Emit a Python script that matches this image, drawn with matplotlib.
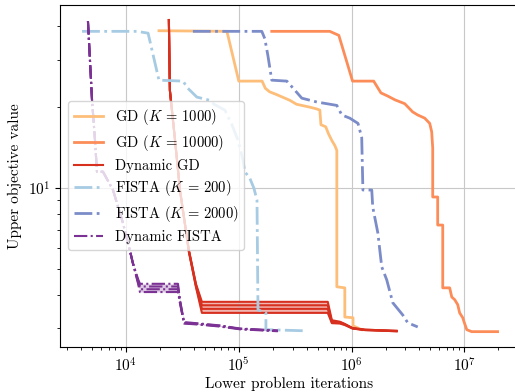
import matplotlib
matplotlib.use("Agg")
import matplotlib.pyplot as plt
from matplotlib.ticker import NullFormatter

plt.rcParams.update({
    "font.family": "serif",
    "font.serif": ["cmr10"],
    "mathtext.fontset": "cm",
    "axes.formatter.use_mathtext": True,
    "axes.unicode_minus": False,
    "font.size": 11,
})

# GD with a fixed number of inner iterations
gd1000_x = [19600, 78500, 100000, 161000, 172000, 188000, 215000, 284000, 325000,
            426000, 490000, 523000, 535000, 590000, 625000, 670000, 710000, 740000,
            740000, 871000, 871000, 1.03e6, 1.03e6, 1.23e6]
gd1000_y = [38.5, 38.3, 25.0, 25.0, 23.5, 22.8, 22.3, 21.2, 20.5,
            20.0, 19.7, 19.5, 17.2, 16.9, 15.9, 15.0, 14.4, 13.8,
            4.29, 4.25, 3.31, 3.29, 3.07, 2.97]

gd10000_x = [196000, 641000, 771000, 1.02e6, 1.57e6, 1.82e6, 2.09e6, 2.42e6, 2.96e6,
             3.48e6, 3.86e6, 4.45e6, 4.93e6, 5.13e6, 5.24e6, 5.24e6, 5.80e6, 5.80e6,
             6.43e6, 6.43e6, 7.41e6, 7.73e6, 8.21e6, 8.73e6, 9.08e6, 9.67e6, 1.0e7,
             1.05e7, 1.16e7, 1.97e7]
gd10000_y = [38.3, 38.3, 37.0, 25.0, 25.0, 22.6, 22.0, 21.3, 20.6,
             19.2, 18.7, 18.2, 17.4, 16.2, 14.1, 9.26, 9.26, 7.28,
             7.28, 4.25, 4.25, 3.93, 3.84, 3.68, 3.43, 3.29, 3.15,
             2.97, 2.92, 2.92]

# dynamic GD, several runs
dyn_gd_x = [24000, 24500, 27200, 30100, 36100, 41700, 47100, 615000, 669000,
            786000, 871000, 1.02e6, 1.31e6, 2.51e6]
dyn_gd_runs = [
    [42.2, 23.1, 15.1, 9.83, 5.88, 4.40, 3.77, 3.77, 3.22, 3.18, 3.12, 3.01, 2.97, 2.94],
    [42.2, 23.1, 15.1, 9.83, 5.85, 4.36, 3.66, 3.66, 3.18, 3.17, 3.11, 3.01, 2.97, 2.94],
    [42.2, 23.1, 15.1, 9.83, 5.82, 4.32, 3.55, 3.55, 3.16, 3.15, 3.10, 3.00, 2.96, 2.93],
    [42.2, 23.1, 15.1, 9.83, 5.78, 4.28, 3.43, 3.43, 3.14, 3.13, 3.09, 3.00, 2.96, 2.93],
]

# FISTA with a fixed number of inner iterations
fista200_x = [4080, 12500, 15700, 19600, 32000, 35400, 42500, 55500, 60200, 75300,
              86900, 98200, 109000, 113000, 125000, 136000, 145000, 148000, 174000,
              174000, 401000]
fista200_y = [38.3, 38.3, 37.7, 25.2, 25.0, 23.5, 21.8, 21.2, 20.5, 19.5,
              17.2, 15.1, 12.7, 11.5, 10.9, 10.0, 9.02, 3.52, 3.43,
              2.97, 2.94]

fista2000_x = [39200, 160000, 170000, 181000, 196000, 267000, 362000, 492000, 740000,
               819000, 964000, 1.14e6, 1.23e6, 1.26e6, 1.51e6, 1.54e6, 1.71e6, 1.85e6,
               2.05e6, 2.32e6, 2.84e6, 3.15e6, 3.86e6]
fista2000_y = [38.3, 38.3, 36.0, 31.2, 25.2, 25.0, 21.6, 20.9, 20.3,
               18.7, 18.2, 17.4, 15.4, 9.83, 9.83, 8.50, 6.80, 5.09,
               4.55, 3.74, 3.37, 3.15, 3.04]

# dynamic FISTA, several runs
dyn_fista_x = [4600, 5000, 5310, 5530, 6250, 7670, 9400, 10800, 11500, 12800, 13300,
               28900, 30100, 32700, 45200, 68000, 102000, 222000]
dyn_fista_runs = [
    [41.8, 21.2, 15.1, 11.5, 11.5, 9.83, 7.41, 5.88, 5.26, 4.58, 4.40, 4.40, 3.84, 3.17, 3.13, 3.08, 3.00, 2.95],
    [41.8, 21.2, 15.1, 11.5, 11.5, 9.83, 7.41, 5.88, 5.26, 4.52, 4.30, 4.30, 3.80, 3.15, 3.12, 3.07, 2.99, 2.94],
    [41.8, 21.2, 15.1, 11.5, 11.5, 9.83, 7.41, 5.88, 5.26, 4.46, 4.20, 4.20, 3.76, 3.14, 3.11, 3.06, 2.99, 2.94],
    [41.8, 21.2, 15.1, 11.5, 11.5, 9.83, 7.41, 5.88, 5.26, 4.40, 4.10, 4.10, 3.72, 3.13, 3.10, 3.05, 2.98, 2.93],
]

colors = {
    "gd1000": "#fdbe7a",
    "gd10000": "#fc8d59",
    "dyn_gd": "#d7301f",
    "fista200": "#a6cbe3",
    "fista2000": "#7b8cc8",
    "dyn_fista": "#7b3294",
}

fig = plt.figure(figsize=(5.15, 3.92), dpi=100)
ax = fig.add_axes([60 / 515, 45 / 392, 459 / 515, 342 / 392])

ax.plot(gd1000_x, gd1000_y, color=colors["gd1000"], lw=2, label=r"GD ($K$ = 1000)")
ax.plot(gd10000_x, gd10000_y, color=colors["gd10000"], lw=2, label=r"GD ($K$ = 10000)")

for i, run in enumerate(dyn_gd_runs):
    ax.plot(dyn_gd_x, run, color=colors["dyn_gd"], lw=1.5,
            label="Dynamic GD" if i == 0 else None)
ax.fill_between(dyn_gd_x, dyn_gd_runs[-1], dyn_gd_runs[0],
                color=colors["dyn_gd"], alpha=0.35, lw=0)

ax.plot(fista200_x, fista200_y, "-.", color=colors["fista200"], lw=2,
        label=r"FISTA ($K$ = 200)")
ax.plot(fista2000_x, fista2000_y, "-.", color=colors["fista2000"], lw=2,
        label=r"FISTA ($K$ = 2000)")

for i, run in enumerate(dyn_fista_runs):
    ax.plot(dyn_fista_x, run, "-.", color=colors["dyn_fista"], lw=1.5,
            label="Dynamic FISTA" if i == 0 else None)
ax.fill_between(dyn_fista_x, dyn_fista_runs[-1], dyn_fista_runs[0],
                color=colors["dyn_fista"], alpha=0.25, lw=0)

ax.set_xscale("log")
ax.set_yscale("log")
ax.set_xlim(2600, 3.05e7)
ax.set_ylim(2.56, 48)
ax.yaxis.set_minor_formatter(NullFormatter())
ax.grid(True, which="major", color="#c8c8c8")
ax.set_xlabel("Lower problem iterations", labelpad=1)
ax.set_ylabel("Upper objective value")

ax.legend(loc="lower left", bbox_to_anchor=(8 / 459, 97 / 342), borderaxespad=0,
          handlelength=2.0, labelspacing=0.4, fontsize=10.5)

fig.savefig("out.png", dpi=100)
